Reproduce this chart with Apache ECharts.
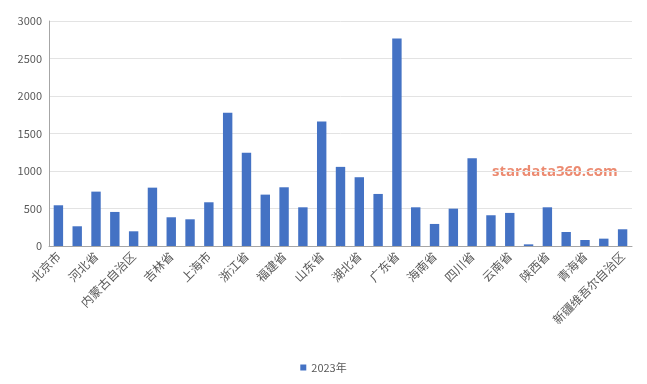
<!DOCTYPE html>
<html><head><meta charset="utf-8">
<script src="https://cdn.jsdelivr.net/npm/echarts@6/dist/echarts.min.js"></script>
<style>html,body{margin:0;padding:0;background:#fff}#c{width:647px;height:384px}</style>
</head><body><div id="c"></div>
<script>
const categories = ['北京市','天津市','河北省','山西省','内蒙古自治区','辽宁省','吉林省','黑龙江省','上海市','江苏省','浙江省','安徽省','福建省','江西省','山东省','河南省','湖北省','湖南省','广东省','广西壮族自治区','海南省','重庆市','四川省','贵州省','云南省','西藏自治区','陕西省','甘肃省','青海省','宁夏回族自治区','新疆维吾尔自治区'];
const values2023 = [543,263,725,454,196,778,383,356,583,1776,1242,685,783,516,1660,1055,917,694,2768,516,294,498,1171,410,441,22,516,187,80,98,223];
const yTicks = {min:0, max:3000, interval:500};
const seriesName = '2023年';
const font = '"Noto Sans CJK SC", "Microsoft YaHei", sans-serif';
const chart = echarts.init(document.getElementById('c'));
chart.setOption({
  animation:false,
  grid:{left:49,right:15,top:21,bottom:138,containLabel:false},
  graphic:[{type:'text',left:492,top:164,style:{text:'stardata360.com',fill:'#ec8a70',font:'bold 15px "Open Sans", sans-serif'}}],
  legend:{bottom:6,left:'center',itemWidth:6,itemHeight:6,icon:'rect',itemGap:4,
    textStyle:{color:'#595959',fontSize:11,fontFamily:font},data:[seriesName]},
  xAxis:{type:'category',data:categories,
    axisLine:{lineStyle:{color:'#a6a6a6'}},
    axisTick:{alignWithLabel:true,interval:1,length:4,lineStyle:{color:'#9db3dc'}},
    axisLabel:{interval:1,rotate:45,color:'#595959',fontSize:12,fontFamily:font,margin:8}},
  yAxis:{type:'value',min:yTicks.min,max:yTicks.max,interval:yTicks.interval,
    axisLine:{show:true,lineStyle:{color:'#a6a6a6'}},
    axisTick:{show:false},
    axisLabel:{color:'#595959',fontSize:11,fontFamily:font,margin:7,formatter:v=>String(v)},
    splitLine:{lineStyle:{color:'#e3e3e3'}}},
  series:[{name:seriesName,type:'bar',data:values2023,barWidth:'50%',
    itemStyle:{color:'#4472c4'}}]
});
</script></body></html>
